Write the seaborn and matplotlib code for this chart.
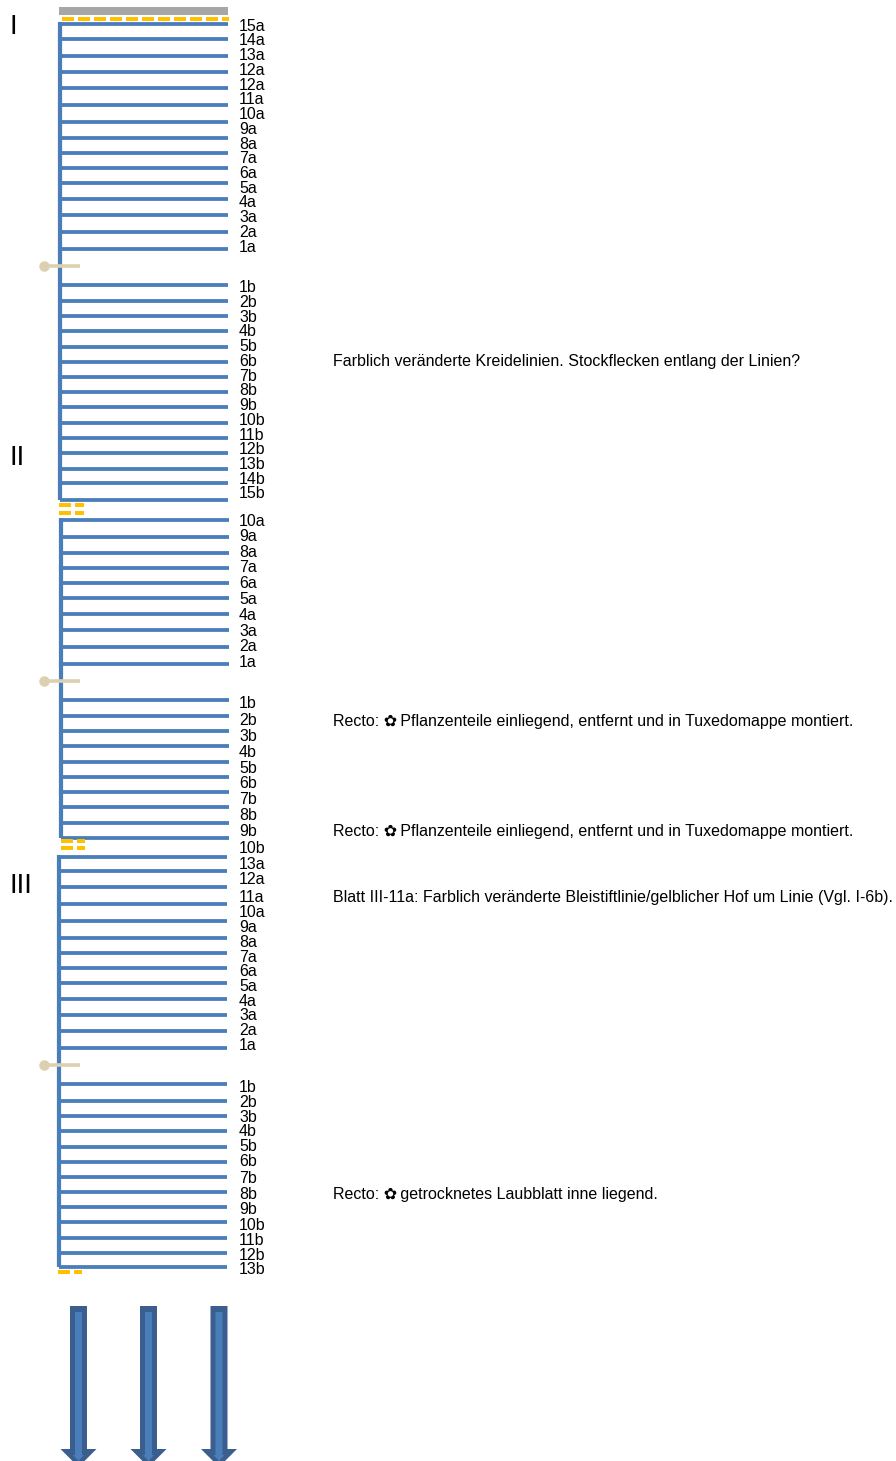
import pandas as pd
import matplotlib
matplotlib.use('Agg')
import matplotlib.pyplot as plt
import seaborn as sns

# Leaves of each quire, y in pixels
q1_lines = [24, 39, 56, 72, 88, 105, 122, 138, 153, 168, 183, 199, 215, 232, 249,
            285, 301, 316, 331, 347, 362, 377, 392, 407, 423, 438, 453, 469, 483, 500]
q2_lines = [520, 537, 553, 568, 583, 598, 614, 630, 647, 664,
            700, 716, 731, 746, 762, 777, 792, 807, 823, 838]
q3_lines = [857, 871, 887, 904, 921, 938, 953, 968, 983, 999, 1015, 1031, 1048,
            1084, 1101, 1116, 1131, 1147, 1162, 1177, 1192, 1207, 1222, 1238, 1253, 1267]

q1_labels = ['15a', '14a', '13a', '12a', '12a', '11a', '10a', '9a', '8a', '7a', '6a', '5a', '4a', '3a', '2a', '1a',
             '1b', '2b', '3b', '4b', '5b', '6b', '7b', '8b', '9b', '10b', '11b', '12b', '13b', '14b', '15b']
q1_label_y = [26, 40, 55, 70, 85, 99, 114, 129, 144, 158, 173, 188, 202, 217, 232, 247,
              287, 302, 317, 331, 346, 361, 376, 390, 405, 420, 435, 449, 464, 479, 493]
q2_labels = ['10a', '9a', '8a', '7a', '6a', '5a', '4a', '3a', '2a', '1a',
             '1b', '2b', '3b', '4b', '5b', '6b', '7b', '8b', '9b', '10b']
q2_label_y = [521, 536, 552, 567, 583, 599, 615, 631, 646, 662,
              703, 720, 736, 752, 768, 783, 799, 815, 831, 848]
q3_labels = ['13a', '12a', '11a', '10a', '9a', '8a', '7a', '6a', '5a', '4a', '3a', '2a', '1a',
             '1b', '2b', '3b', '4b', '5b', '6b', '7b', '8b', '9b', '10b', '11b', '12b', '13b']
q3_label_y = [864, 879, 897, 912, 927, 942, 957, 971, 986, 1001, 1015, 1030, 1045,
              1087, 1102, 1117, 1131, 1146, 1161, 1178, 1194, 1209, 1225, 1240, 1255, 1269]

# spine x, right end of the leaves
spine_x = [60, 61, 58.5]
right_x = [228, 229, 227]

stubs_y = [266, 681, 1065]
roman = ['I', 'II', 'III']
roman_y = [34, 465, 893]

notes = ['Farblich veränderte Kreidelinien. Stockflecken entlang der Linien?',
         'Recto: ✿\u2009Pflanzenteile einliegend, entfernt und in Tuxedomappe montiert.',
         'Recto: ✿\u2009Pflanzenteile einliegend, entfernt und in Tuxedomappe montiert.',
         'Blatt III-11a: Farblich veränderte Bleistiftlinie/gelblicher Hof um Linie (Vgl. I-6b).',
         'Recto: ✿\u2009getrocknetes Laubblatt inne liegend.']
notes_y = [366, 726, 836, 902, 1199]

# orange dashes: y, x start, x end
dash_y = [19, 505, 513, 841, 848, 1272]
dash_start = [62, 59, 59, 61, 61, 58]
dash_end = [229, 84, 84, 85, 85, 82]

arrow_x = [78.5, 148.5, 219]

BLUE = '#4A7EBB'
DARK = '#3A5F8E'
TAN = '#DDD0B1'
ORANGE = '#FFC000'
GREY = '#A6A6A6'

sns.set_theme(style='white')
plt.rcParams['font.family'] = ['Liberation Sans', 'DejaVu Sans']

fig = plt.figure(figsize=(8.96, 14.61), dpi=100)
ax = fig.add_axes([0, 0, 1, 1])
PX = 72 / 100  # one pixel in points


def segments(x0, x1, ys):
    rows = []
    for i in range(len(ys)):
        rows.append({'id': i, 'x': x0[i], 'y': ys[i]})
        rows.append({'id': i, 'x': x1[i], 'y': ys[i]})
    return pd.DataFrame(rows)


# leaves and spines
for lines, sx, rx in zip([q1_lines, q2_lines, q3_lines], spine_x, right_x):
    n = len(lines)
    leaves = segments([sx] * n, [rx] * n, lines)
    sns.lineplot(data=leaves, x='x', y='y', units='id', estimator=None, sort=False,
                 color=BLUE, lw=3.8 * PX, solid_capstyle='butt', ax=ax)
    spine = pd.DataFrame({'x': [sx, sx], 'y': [lines[0] - 2, lines[-1]]})
    sns.lineplot(data=spine, x='x', y='y', estimator=None, sort=False,
                 color=BLUE, lw=4.2 * PX, solid_capstyle='butt', ax=ax)

# grey bar on top
bar = pd.DataFrame({'x': [59, 228], 'y': [11, 11]})
sns.lineplot(data=bar, x='x', y='y', estimator=None, sort=False,
             color=GREY, lw=8 * PX, solid_capstyle='butt', ax=ax)

# orange dashes
dashes = segments(dash_start, dash_end, dash_y)
sns.lineplot(data=dashes, x='x', y='y', units='id', estimator=None, sort=False,
             color=ORANGE, lw=4 * PX, linestyle=(0, (3, 1)), ax=ax)

# tan stubs
n = len(stubs_y)
stubs = segments([44] * n, [80] * n, stubs_y)
sns.lineplot(data=stubs, x='x', y='y', units='id', estimator=None, sort=False,
             color=TAN, lw=3.6 * PX, solid_capstyle='butt', ax=ax)
dots = pd.DataFrame({'x': [44] * n, 'y': stubs_y})
sns.scatterplot(data=dots, x='x', y='y', color=TAN, s=(10.5 * PX) ** 2, linewidth=0, ax=ax)

# arrows at the bottom
for x in arrow_x:
    ax.arrow(x, 1306, 0, 161, width=17, head_width=36, head_length=18,
             length_includes_head=True, fc=DARK, ec='none')
    ax.arrow(x, 1312, 0, 149, width=7, head_width=11, head_length=6,
             length_includes_head=True, fc=BLUE, ec='none')

# text, on the baseline so the labels do not jitter
for labels, ys in zip([q1_labels, q2_labels, q3_labels], [q1_label_y, q2_label_y, q3_label_y]):
    for lab, y in zip(labels, ys):
        ax.text(239, y + 5, lab, fontsize=11.5, color='black', va='baseline', ha='left')

for r, y in zip(roman, roman_y):
    ax.text(10, y, r, fontsize=20, color='black', va='baseline', ha='left')

for note, y in zip(notes, notes_y):
    ax.text(333, y, note, fontsize=11.52, color='black', va='baseline', ha='left')

ax.set_xlim(0, 896)
ax.set_ylim(1461, 0)
ax.set_axis_off()

fig.savefig('out.png', dpi=100)
